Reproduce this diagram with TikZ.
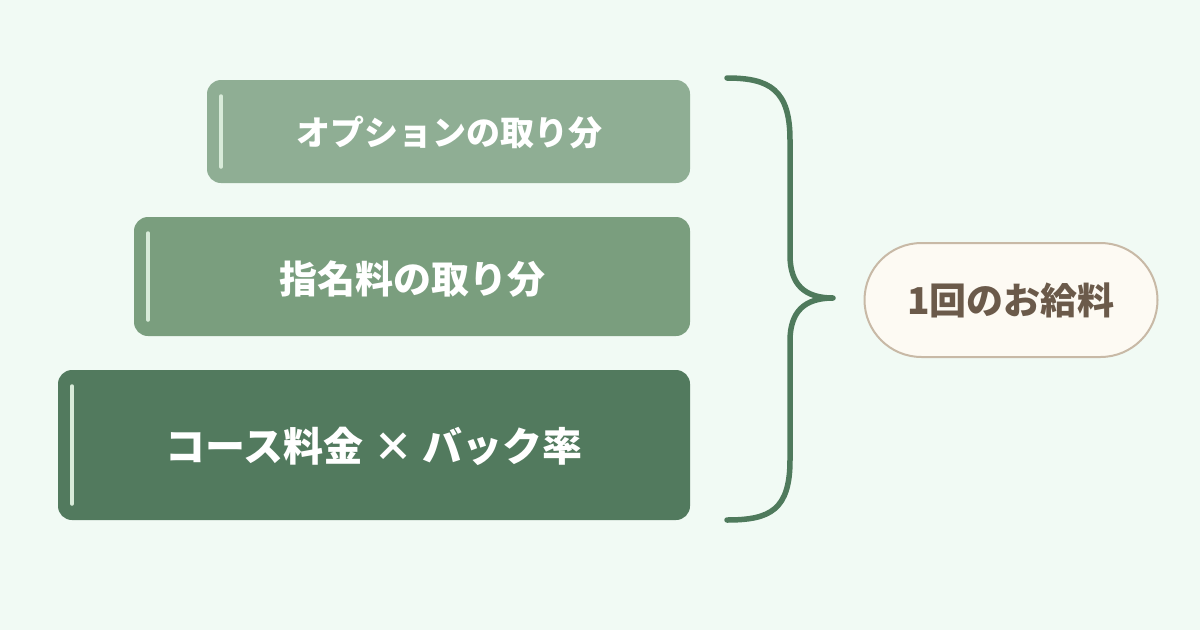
\documentclass[tikz,border=0pt]{standalone}
\usepackage{fontspec}
\newfontfamily\cjk{Noto Sans CJK JP}
\definecolor{bg}{HTML}{F1FAF4}
\definecolor{bA}{HTML}{8FAE94}
\definecolor{bB}{HTML}{7A9E7E}
\definecolor{bC}{HTML}{527A5E}
\definecolor{brc}{HTML}{4F7A5C}
\definecolor{pillf}{HTML}{FDFAF3}
\definecolor{pilld}{HTML}{C8B9A6}
\definecolor{pillt}{HTML}{6B5A4A}
\definecolor{acc}{HTML}{D8EBD9}
\begin{document}
\begin{tikzpicture}[x=1pt,y=-1pt,
  box/.style={rounded corners=14pt,draw=none},
  lbl/.style={text=white,font=\cjk\bfseries},
  accent/.style={draw=acc,line width=3.5pt,line cap=round}]
\fill[bg] (0,0) rectangle (1200,630);
\useasboundingbox (0,0) rectangle (1200,630);
\fill[box,bA] (207,80) rectangle (690,183);
\draw[accent] (221,96) -- (221,167);
\node[lbl,font=\cjk\bfseries\fontsize{34}{38}\selectfont] (t1) at (449,133) {オプションの取り分};
\fill[box,bB] (134,217) rectangle (690,336);
\draw[accent] (148,233) -- (148,320);
\node[lbl,font=\cjk\bfseries\fontsize{38}{42}\selectfont] (t2) at (412,279) {指名料の取り分};
\fill[box,bC] (58,370) rectangle (690,520);
\draw[accent] (72,386) -- (72,504);
\node[lbl,font=\cjk\bfseries\fontsize{40}{44}\selectfont] (t3) at (374,446) {コース料金 × バック率};
\draw[brc,line width=5.5pt,line cap=round,line join=round]
  (727,78) .. controls (770,78) and (790,90) .. (790,140)
  -- (790,255) .. controls (790,285) and (805,298) .. (833,298)
  .. controls (805,298) and (790,311) .. (790,341)
  -- (790,460) .. controls (790,510) and (770,520) .. (727,520);
\node[draw=pilld,fill=pillf,line width=2pt,rounded corners=57pt,minimum width=293pt,minimum height=114pt,text=pillt,font=\cjk\bfseries\fontsize{37}{40}\selectfont] (p) at (1011,300) {1回のお給料};
\end{tikzpicture}
\end{document}
